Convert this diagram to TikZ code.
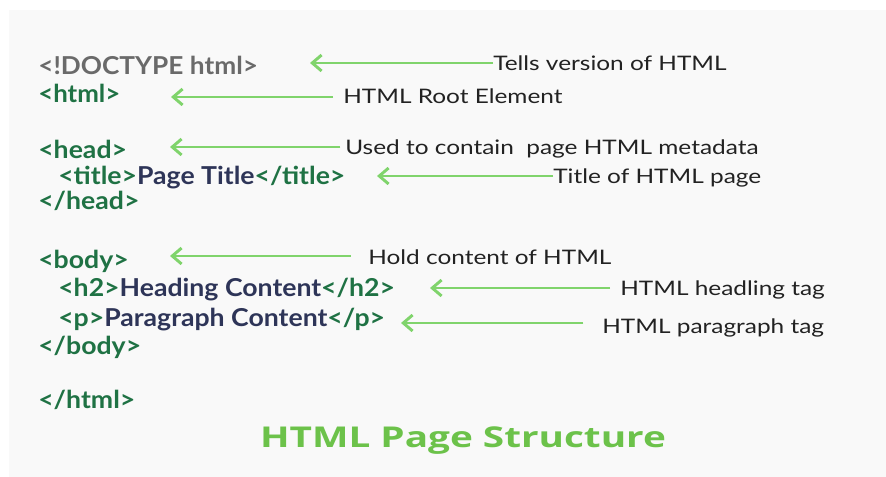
\documentclass[tikz,border=0pt]{standalone}
\usepackage{fontspec}
\setmainfont{Lato}
\newfontfamily\headfont{Open Sans}
\usepackage{xcolor}
\usepackage{tikz}
\usetikzlibrary{arrows.meta}
\definecolor{tagc}{HTML}{1F7244}
\definecolor{txtc}{HTML}{2E3558}
\definecolor{docc}{HTML}{6A6A6A}
\definecolor{arrc}{HTML}{80D46C}
\definecolor{titc}{HTML}{6CC24A}
\definecolor{lblc}{HTML}{222222}
\definecolor{panelc}{HTML}{F9F9F9}
\newcommand{\bodytxt}[1]{\textcolor{txtc}{#1}}
\tikzset{
    code/.style = {
        inner sep = 0pt,
        anchor    = base west,
        xscale    = 1.08,
        font      = \fontsize{18.5pt}{22pt}\selectfont\bfseries,
        text      = tagc,
    },
    note/.style = {
        inner sep = 0pt,
        anchor    = base west,
        xscale    = 1.22,
        font      = \fontsize{15pt}{18pt}\selectfont,
        text      = lblc,
    },
    pointer/.style = {
        draw           = arrc,
        line width     = 2.2pt,
        -{Straight Barb[length=7pt, width=12pt, line width=2.2pt]},
    },
}

\begin{document}
\begin{tikzpicture}[x=0.75pt, y=-0.75pt]
        \useasboundingbox (0,0) rectangle (886,477);
        \fill [white] (0,0) rectangle (886,477);
        \fill [panelc] (9,10) rectangle (886,477);

        % code column
        \node (doctype) [code, text=docc, xscale=0.985] at (38,75) {<!DOCTYPE html>};
        \node (html)    [code, xscale=0.97] at (38,103) {<html>};
        \node (head)    [code] at (38,159) {<head>};
        \node (title)   [code] at (58,185) {<title>\bodytxt{Page Title}</title>};
        \node (headend) [code] at (38,210) {</head>};
        \node (body)    [code] at (38,269) {<body>};
        \node (htwo)    [code] at (58,297) {<h2>\bodytxt{Heading Content}</h2>};
        \node (para)    [code] at (58,327) {<p>\bodytxt{Paragraph Content}</p>};
        \node (bodyend) [code] at (38,355) {</body>};
        \node (htmlend) [code] at (38,409) {</html>};

        % notes
        \node (nversion) [note] at (493,71)  {Tells version of HTML};
        \node (nroot)    [note] at (343,104) {HTML Root Element};
        \node (nmeta)    [note] at (345,155) {Used to contain~ page HTML metadata};
        \node (ntitle)   [note] at (553,184) {Title of HTML page};
        \node (nhold)    [note] at (368,265) {Hold content of HTML};
        \node (nhead)    [note] at (620,296) {HTML headling tag};
        \node (npara)    [note] at (602,334) {HTML paragraph tag};

        % arrow tips
        \coordinate (tversion) at (310,63);
        \coordinate (troot)    at (171,97);
        \coordinate (tmeta)    at (170,147);
        \coordinate (ttitle)   at (377,176);
        \coordinate (thold)    at (170,256);
        \coordinate (thead)    at (430,288);
        \coordinate (tpara)    at (401,323);

        \draw [pointer] (nversion.west |- tversion) -- (tversion);
        \draw [pointer] ([xshift=-7.5pt] nroot.west |- troot) -- (troot);
        \draw [pointer] ([xshift=-3.5pt] nmeta.west |- tmeta) -- (tmeta);
        \draw [pointer] (ntitle.west |- ttitle) -- (ttitle);
        \draw [pointer] ([xshift=-13pt] nhold.west |- thold) -- (thold);
        \draw [pointer] ([xshift=-7.5pt] nhead.west |- thead) -- (thead);
        \draw [pointer] ([xshift=-14pt] npara.west |- tpara) -- (tpara);

        \node (caption) [inner sep=0pt, anchor=base, xscale=1.35, text=titc, font=\fontsize{21.5pt}{26pt}\selectfont\headfont\bfseries] at (463,448) {HTML Page Structure};

    \end{tikzpicture}
\end{document}
